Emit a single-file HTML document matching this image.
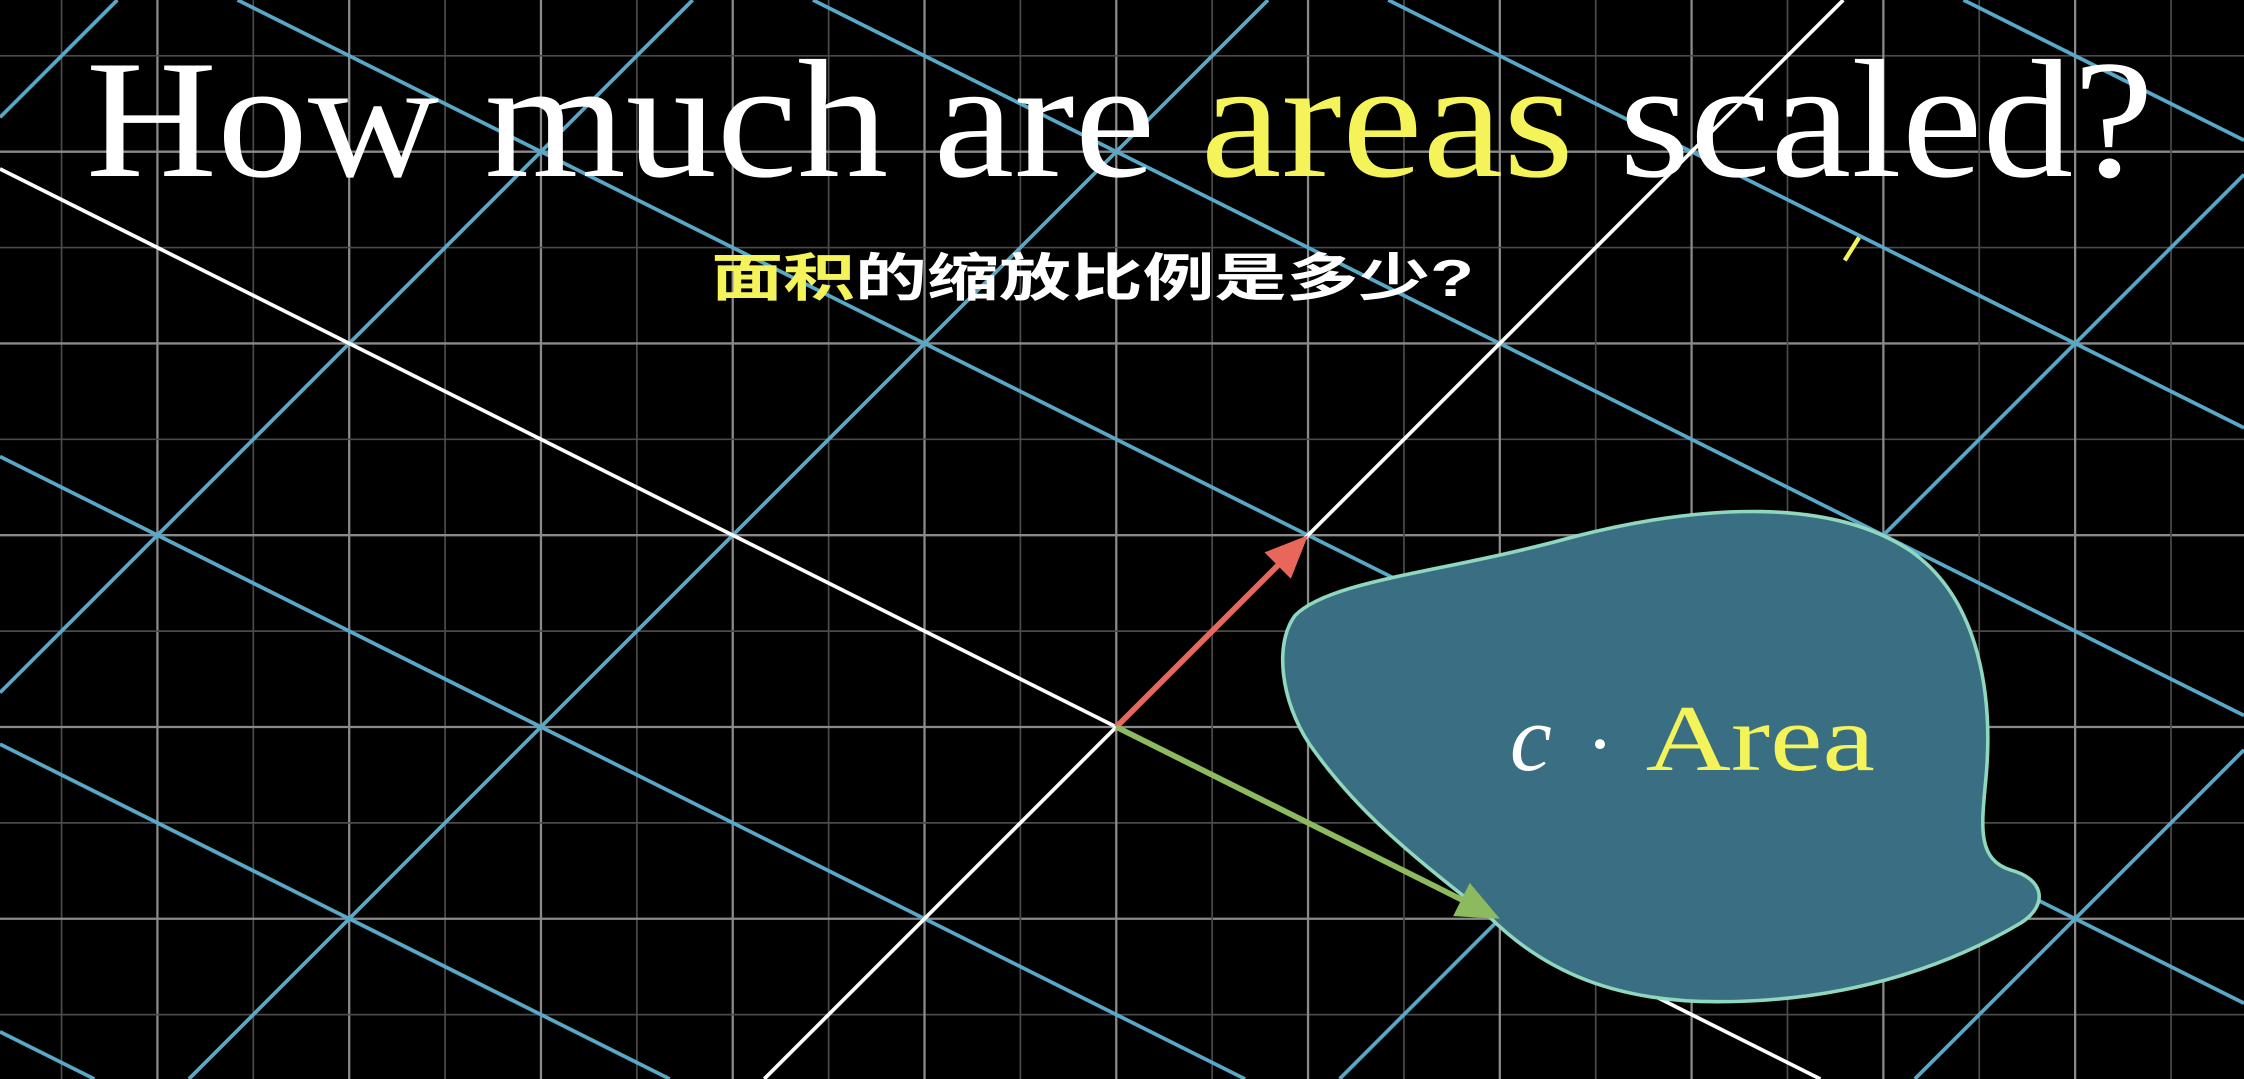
<!DOCTYPE html>
<html><head><meta charset="utf-8"><style>
html,body{margin:0;padding:0;background:#000;overflow:hidden;width:2244px;height:1079px}
svg{display:block;overflow:hidden}
</style></head><body>
<svg id="scene" width="2244" height="1079" viewBox="0 0 1568 754" preserveAspectRatio="none" xmlns="http://www.w3.org/2000/svg">
<rect width="1568" height="754" fill="#000"/>
<g id="grid"></g>
<g id="tgrid"></g>
<path fill="#3a6e82" stroke="#8fd8bf" stroke-width="2.5"
 d="M905,430 C930,405 1010,400 1100,375 C1190,352 1280,348 1335,385 C1385,420 1392,490 1388,540 C1385,575 1380,600 1405,608 C1428,614 1432,632 1412,645 C1370,670 1300,700 1200,700 C1130,700 1080,680 1040,640 C990,600 950,570 915,520 C895,490 890,450 905,430 Z"/>
<g id="vectors"></g>
<text x="1055" y="538" font-family="Liberation Serif, serif" font-size="66" fill="#fff" font-style="italic">c</text>
<circle cx="1118" cy="520" r="3.5" fill="#fff"/>
<text x="1150" y="538" font-family="Liberation Serif, serif" font-size="66" fill="#f4f45a" textLength="160" lengthAdjust="spacingAndGlyphs">Area</text>
<text x="60" y="123" font-family="Liberation Serif, serif" font-size="118" fill="#fff" textLength="1445" lengthAdjust="spacingAndGlyphs">How much are <tspan fill="#f4f45a">areas</tspan> scaled?</text>
<text x="497" y="207" font-family="Liberation Sans, Noto Sans CJK SC, sans-serif" font-weight="bold" font-size="36" fill="#fff" textLength="533" lengthAdjust="spacingAndGlyphs"><tspan fill="#f4f45a">面积</tspan>的缩放比例是多少?</text>
<line x1="1289" y1="182" x2="1299" y2="166" stroke="#f4f45a" stroke-width="3"/>
</svg>
<script>
const NS="http://www.w3.org/2000/svg";
const origin=[780,508];
const unit=134;
const iHat=[2,-1];
const jHat=[1,1];
const gridRange=[-8,8];
const W=1568,H=754;
function sx(x){return origin[0]+x*unit;}
function sy(y){return origin[1]-y*unit;}
function mk(tag,attrs,parent){const e=document.createElementNS(NS,tag);for(const k in attrs)e.setAttribute(k,attrs[k]);parent.appendChild(e);return e;}
function clip(x0,y0,x1,y1){
  let t0=0,t1=1;const dx=x1-x0,dy=y1-y0;
  const p=[-dx,dx,-dy,dy],q=[x0,W-x0,y0,H-y0];
  for(let i=0;i<4;i++){
    if(p[i]===0){if(q[i]<0)return null;}
    else{const r=q[i]/p[i];if(p[i]<0){if(r>t1)return null;if(r>t0)t0=r;}else{if(r<t0)return null;if(r<t1)t1=r;}}
  }
  return [x0+t0*dx,y0+t0*dy,x0+t1*dx,y0+t1*dy];
}
const grid=document.getElementById('grid');
for(let k=gridRange[0]*2;k<=gridRange[1]*2;k++){
  const v=k/2;
  const major=k%2===0;
  const c=major?'#8a8a8a':'#4a4a4a';
  const X=sx(v),Y=sy(v);
  if(X>=0&&X<=W){
    const l1=mk('line',{x1:X,y1:0,x2:X,y2:H,stroke:c,'stroke-width':major?1.6:1.2},grid);
    
    
  }
  if(Y>=0&&Y<=H){
    const l2=mk('line',{x1:0,y1:Y,x2:W,y2:Y,stroke:c,'stroke-width':major?1.6:1.2},grid);
    
    
  }
}
const tg=document.getElementById('tgrid');
function tline(p,d,color,w,name){
  const L=30;
  const s=clip(sx(p[0]-d[0]*L),sy(p[1]-d[1]*L),sx(p[0]+d[0]*L),sy(p[1]+d[1]*L));
  if(!s)return;
  const e=mk('line',{x1:s[0],y1:s[1],x2:s[2],y2:s[3],stroke:color,'stroke-width':w},tg);
  
  
}
for(let k=gridRange[0];k<=gridRange[1];k++){
  if(k===0)continue;
  tline([jHat[0]*k,jHat[1]*k],iHat,'#58a8c8',2.6,'transformed-grid-line-i');
  tline([iHat[0]*k,iHat[1]*k],jHat,'#58a8c8',2.6,'transformed-grid-line-j');
}
tline([0,0],iHat,'#ffffff',2.6,'transformed-x-axis');
tline([0,0],jHat,'#ffffff',2.6,'transformed-y-axis');
const vg=document.getElementById('vectors');
function arrow(v,color,name){
  const x0=sx(0),y0=sy(0),x1=sx(v[0]),y1=sy(v[1]);
  const dx=x1-x0,dy=y1-y0,len=Math.hypot(dx,dy),ux=dx/len,uy=dy/len;
  const h=30,w=13;
  const bx=x1-ux*h,by=y1-uy*h;
  const g=mk('g',{},vg);
  
  
  mk('line',{x1:x0,y1:y0,x2:bx,y2:by,stroke:color,'stroke-width':4},g);
  mk('polygon',{points:`${x1},${y1} ${bx-uy*w},${by+ux*w} ${bx+uy*w},${by-ux*w}`,fill:color},g);
}
arrow(jHat,'#e8675a','j-hat-vector');
arrow(iHat,'#8cba5e','i-hat-vector');
</script>
</body></html>
